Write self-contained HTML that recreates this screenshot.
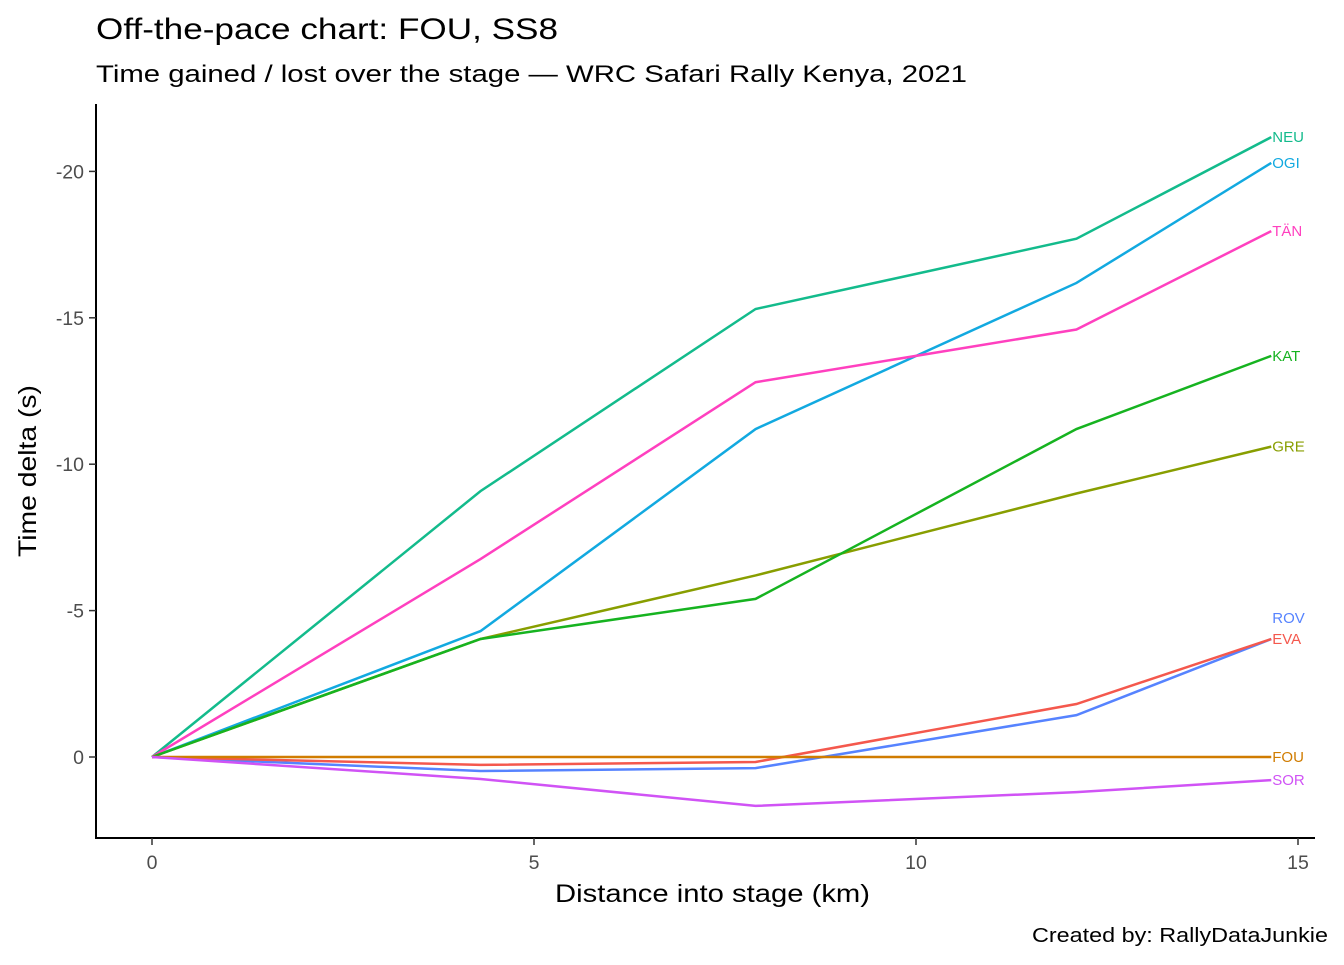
<!DOCTYPE html>
<html><head><meta charset="utf-8"><style>
body{margin:0;background:#fff;font-family:"Liberation Sans",sans-serif}
</style></head><body>
<svg width="1344" height="960" xmlns="http://www.w3.org/2000/svg" font-family="Liberation Sans, sans-serif">
<text x="96" y="39" font-size="30" textLength="462" lengthAdjust="spacingAndGlyphs">Off-the-pace chart: FOU, SS8</text>
<text x="96" y="82" font-size="24" textLength="871" lengthAdjust="spacingAndGlyphs">Time gained / lost over the stage — WRC Safari Rally Kenya, 2021</text>
<g id="axes"></g>
<g id="lines"></g>
<text x="555" y="902" font-size="25" textLength="315" lengthAdjust="spacingAndGlyphs">Distance into stage (km)</text>
<text transform="translate(36,471) rotate(-90)" font-size="25" text-anchor="middle" textLength="172" lengthAdjust="spacingAndGlyphs">Time delta (s)</text>
<text x="1032" y="942" font-size="20" textLength="296" lengthAdjust="spacingAndGlyphs">Created by: RallyDataJunkie</text>
</svg>
<script>
const distances=[0,4.3,7.9,12.1,14.65];
const drivers=["NEU","OGI","TÄN","GRE","KAT","ROV","EVA","FOU","SOR"];
const NEU=[0,-9.08,-15.3,-17.7,-21.17];
const OGI=[0,-4.3,-11.2,-16.19,-20.29];
const TAN=[0,-6.76,-12.8,-14.6,-17.96];
const GRE=[0,-4.03,-6.2,-9.0,-10.6];
const KAT=[0,-4.03,-5.4,-11.2,-13.7];
const ROV=[0,0.48,0.38,-1.43,-4.03];
const EVA=[0,0.27,0.17,-1.81,-4.03];
const FOU=[0,0,0,0,0];
const SOR=[0,0.75,1.67,1.2,0.79];
const xTicks=[0,5,10,15];
const yTicks=[0,-5,-10,-15,-20];
const series=[NEU,OGI,TAN,GRE,KAT,ROV,EVA,FOU,SOR];
const colors=["#13BB8C","#12A9E0","#FF40BF","#889E00","#16B320","#5683FF","#F4584D","#D07C00","#D053F5"];
const labelOffset=[0,0,0,0,0,-21,0,0,0];
const NS="http://www.w3.org/2000/svg";
const X=v=>152+v*76.4, Y=v=>757+v*29.28;
const ax=document.getElementById('axes'), ln=document.getElementById('lines');
function mk(t,a,p){const e=document.createElementNS(NS,t);for(const k in a)e.setAttribute(k,a[k]);p.appendChild(e);return e;}
const yl=mk('line',{x1:96,y1:104,x2:96,y2:838,stroke:'#000','stroke-width':2},ax);


const xl=mk('line',{x1:95,y1:838,x2:1315,y2:838,stroke:'#000','stroke-width':2},ax);


xTicks.forEach(t=>{
 mk('line',{x1:X(t),y1:838,x2:X(t),y2:845,stroke:'#333','stroke-width':1.5},ax);
 const e=mk('text',{x:X(t),y:869,'font-size':19.5,fill:'#4d4d4d','text-anchor':'middle'},ax);e.textContent=t;
 
 
});
yTicks.forEach(t=>{
 mk('line',{x1:89,y1:Y(t),x2:96,y2:Y(t),stroke:'#333','stroke-width':1.5},ax);
 const e=mk('text',{x:84,y:Y(t)+7,'font-size':19.5,fill:'#4d4d4d','text-anchor':'end'},ax);e.textContent=t;
 
 
});
series.forEach((s,i)=>{
 const p=mk('polyline',{points:s.map((v,j)=>X(distances[j])+','+Y(v)).join(' '),fill:'none',stroke:colors[i],'stroke-width':2.5},ln);
 
 
 const l=s[s.length-1];
 const t=mk('text',{x:X(distances[distances.length-1])+1,y:Y(l)+5+labelOffset[i],'font-size':15,fill:colors[i]},ln);
 t.textContent=drivers[i];
 
 
});
</script>
</body></html>
